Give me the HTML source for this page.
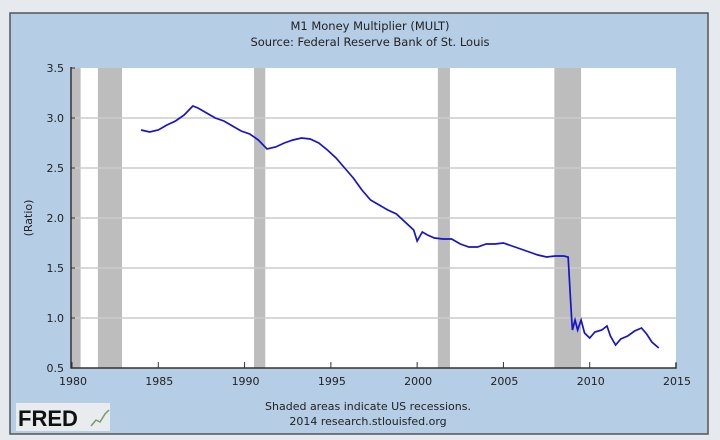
<!DOCTYPE html>
<html><head><meta charset="utf-8">
<style>
body{margin:0;width:720px;height:440px;background:#e6eaee;overflow:hidden;font-family:"DejaVu Sans","Liberation Sans",sans-serif}
svg{display:block}
</style></head><body>
<svg width="720" height="440" id="c">
<rect x="10" y="13" width="698" height="421" fill="#b5cde5" stroke="#555" stroke-width="1.5"/>
<text x="370" y="30" text-anchor="middle" font-size="11.5" fill="#222">M1 Money Multiplier (MULT)</text>
<text x="370" y="46" text-anchor="middle" font-size="11.5" fill="#222">Source: Federal Reserve Bank of St. Louis</text>
<rect x="72" y="68" width="604" height="300" fill="#fff"/>
<g id="rec"></g><g id="grid"></g><g id="axes"></g><g id="line"></g>
<text transform="translate(32,218) rotate(-90)" text-anchor="middle" font-size="11" fill="#222">(Ratio)</text>
<text x="368" y="410" text-anchor="middle" font-size="11" fill="#222">Shaded areas indicate US recessions.</text>
<text x="368" y="425" text-anchor="middle" font-size="11" fill="#222">2014 research.stlouisfed.org</text>
<g>
<rect x="16" y="403" width="94" height="28" fill="#e8ecee"/>
<text x="18" y="426" font-family="Liberation Sans,sans-serif" font-weight="bold" font-size="22" fill="#111">FRED</text>
<polyline points="91,426 96,420 100,422 105,414 109,410" fill="none" stroke="#7a9a6a" stroke-width="1.5"/>
</g>
</svg>
<script>
const years=[1984.0,1984.5,1985.0,1985.5,1986.0,1986.5,1987.0,1987.3,1987.8,1988.3,1988.8,1989.3,1989.8,1990.3,1990.8,1991.3,1991.8,1992.3,1992.8,1993.3,1993.8,1994.3,1994.8,1995.3,1995.8,1996.3,1996.8,1997.3,1997.8,1998.3,1998.8,1999.3,1999.8,2000.0,2000.3,2000.6,2001.0,2001.5,2002.0,2002.5,2003.0,2003.5,2004.0,2004.5,2005.0,2005.5,2006.0,2006.5,2007.0,2007.5,2008.0,2008.5,2008.75,2008.85,2008.95,2009.0,2009.15,2009.3,2009.5,2009.7,2010.0,2010.3,2010.7,2011.0,2011.2,2011.5,2011.8,2012.2,2012.6,2013.0,2013.3,2013.6,2014.0];
const values=[2.88,2.86,2.88,2.93,2.97,3.03,3.12,3.10,3.05,3.00,2.97,2.92,2.87,2.84,2.78,2.69,2.71,2.75,2.78,2.80,2.79,2.75,2.68,2.60,2.50,2.40,2.28,2.18,2.13,2.08,2.04,1.96,1.88,1.77,1.86,1.83,1.80,1.79,1.79,1.74,1.71,1.71,1.74,1.74,1.75,1.72,1.69,1.66,1.63,1.61,1.62,1.62,1.61,1.30,1.00,0.88,0.98,0.88,0.98,0.85,0.80,0.86,0.88,0.92,0.82,0.73,0.79,0.82,0.87,0.90,0.84,0.76,0.70];
const recStart=[1980.0,1981.5,1990.55,2001.2,2007.95];
const recEnd=[1980.5,1982.9,1991.2,2001.9,2009.5];
const xTicks=[1980,1985,1990,1995,2000,2005,2010,2015];
const yTicks=[0.5,1.0,1.5,2.0,2.5,3.0,3.5];
const NS="http://www.w3.org/2000/svg";
const X=v=>72+(v-1980)*(676-72)/35, Y=v=>368-(v-0.5)*100;
function mk(t,a,p){const e=document.createElementNS(NS,t);for(const k in a)e.setAttribute(k,a[k]);document.getElementById(p).appendChild(e);return e;}
recStart.forEach((s,i)=>{const r=mk('rect',{x:X(s),y:68,width:X(recEnd[i])-X(s),height:300,fill:'#bdbdbd'},'rec');

});
yTicks.forEach(v=>{if(v>0.5&&v<3.5){const l=mk('line',{x1:72,x2:676,y1:Y(v),y2:Y(v),stroke:'#ccc','stroke-width':1.5},'grid');

}
const t=mk('text',{x:64,y:Y(v)+4,'text-anchor':'end','font-size':11,fill:'#222'},'axes');t.textContent=v.toFixed(1);


mk('line',{x1:71,x2:75,y1:Y(v),y2:Y(v),stroke:'#333'},'axes');});
xTicks.forEach(v=>{mk('line',{x1:X(v),x2:X(v),y1:362,y2:368,stroke:'#333'},'axes');
const t=mk('text',{x:X(v)+1,y:385,'text-anchor':'middle','font-size':11,fill:'#222'},'axes');t.textContent=v;

});
const ax=mk('polyline',{points:'71,67 71,368 676,368 676,363',fill:'none',stroke:'#333','stroke-width':1.5},'axes');


const ln=mk('polyline',{points:years.map((y,i)=>X(y)+','+Y(values[i])).join(' '),fill:'none',stroke:'#1414c8','stroke-width':1.7},'line');


</script>
</body></html>
